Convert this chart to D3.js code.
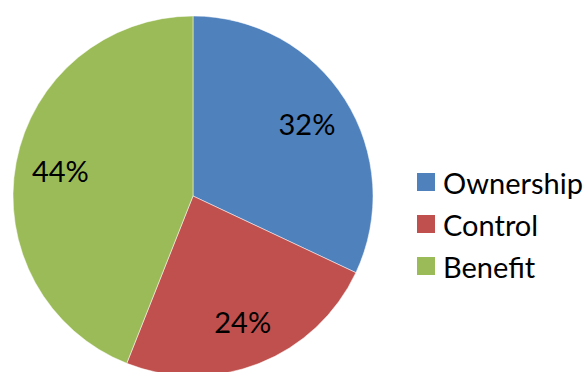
<!DOCTYPE html>
<html>
<head>
<meta charset="utf-8">
<script src="https://cdn.jsdelivr.net/npm/d3@7"></script>
<style>
  html, body { margin: 0; padding: 0; background: #fff; }
  svg { display: block; }
  text { font-family: Lato, "Open Sans", sans-serif; fill: #000; }
</style>
</head>
<body>
<svg id="chart" width="585" height="372"></svg>
<script>
// Share of each category
const categories = ["Ownership", "Control", "Benefit"];
const shares = [32, 24, 44];
const colors = ["#4F81BD", "#C0504D", "#9BBB59"];

const svg = d3.select("#chart");
const cx = 193, cy = 196, radius = 180;

const data = categories.map((c, i) => ({ name: c, value: shares[i], color: colors[i] }));

const pie = d3.pie().sort(null).value(d => d.value);
const arc = d3.arc().innerRadius(0).outerRadius(radius);
const labelArc = d3.arc().innerRadius(radius * 0.75).outerRadius(radius * 0.75);

const g = svg.append("g").attr("transform", `translate(${cx},${cy})`);
const arcs = pie(data);

g.selectAll("path.slice")
  .data(arcs)
  .join("path")
  .attr("class", "slice")
  .attr("d", arc)
  .attr("fill", d => d.data.color)
  .attr("stroke", "#fff")
  .attr("stroke-width", 0.5);

const total = d3.sum(shares);
g.selectAll("text.pct")
  .data(arcs)
  .join("text")
  .attr("class", "pct")
  .attr("transform", d => `translate(${labelArc.centroid(d)})`)
  .attr("text-anchor", "middle")
  .attr("dominant-baseline", "central")
  .style("font-size", "29px")
  .text(d => Math.round(d.data.value / total * 100) + "%");

// Legend
const legend = svg.append("g").attr("transform", "translate(417,173)");
const item = legend.selectAll("g.item")
  .data(data)
  .join("g")
  .attr("class", "item")
  .attr("transform", (d, i) => `translate(0,${i * 42})`);

item.append("rect")
  .attr("width", 18)
  .attr("height", 18)
  .attr("fill", d => d.color);

item.append("text")
  .attr("x", 26)
  .attr("y", 9)
  .attr("dominant-baseline", "central")
  .style("font-size", "29px")
  .text(d => d.name);
</script>
</body>
</html>
